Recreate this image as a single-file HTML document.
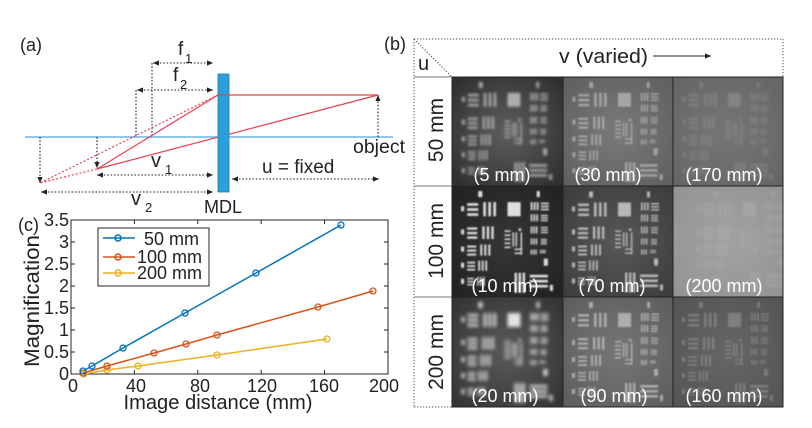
<!DOCTYPE html>
<html><head><meta charset="utf-8"><style>
html,body{margin:0;padding:0;background:#fff;}
svg{display:block;}
text{font-family:"Liberation Sans",sans-serif;}
</style></head><body>
<svg width="812" height="428" viewBox="0 0 812 428" xmlns="http://www.w3.org/2000/svg">
<defs>
<marker id="ah" viewBox="0 0 6 6" refX="6" refY="3" markerWidth="6" markerHeight="6" markerUnits="userSpaceOnUse" orient="auto-start-reverse"><path d="M0,0.4 L6,3 L0,5.6 z" fill="#222"/></marker>
<filter id="b1" x="-10%" y="-10%" width="120%" height="120%"><feGaussianBlur stdDeviation="0.9"/></filter>
<filter id="b2" x="-10%" y="-10%" width="120%" height="120%"><feGaussianBlur stdDeviation="1.2"/></filter>
<filter id="b3" x="-10%" y="-10%" width="120%" height="120%"><feGaussianBlur stdDeviation="1.8"/></filter>
<radialGradient id="g11" cx="50%" cy="50%" r="65%"><stop offset="0" stop-color="#5e5e5e"/><stop offset="1" stop-color="#303030"/></radialGradient>
<radialGradient id="g12" cx="50%" cy="50%" r="65%"><stop offset="0" stop-color="#7a7a7a"/><stop offset="1" stop-color="#606060"/></radialGradient>
<radialGradient id="g13" cx="50%" cy="50%" r="65%"><stop offset="0" stop-color="#767676"/><stop offset="1" stop-color="#666"/></radialGradient>
<radialGradient id="g21" cx="50%" cy="50%" r="65%"><stop offset="0" stop-color="#363636"/><stop offset="1" stop-color="#232323"/></radialGradient>
<radialGradient id="g22" cx="50%" cy="50%" r="65%"><stop offset="0" stop-color="#575757"/><stop offset="1" stop-color="#3e3e3e"/></radialGradient>
<radialGradient id="g23" cx="50%" cy="50%" r="65%"><stop offset="0" stop-color="#a2a2a2"/><stop offset="1" stop-color="#949494"/></radialGradient>
<radialGradient id="g31" cx="50%" cy="50%" r="65%"><stop offset="0" stop-color="#5a5a5a"/><stop offset="1" stop-color="#353535"/></radialGradient>
<radialGradient id="g32" cx="50%" cy="50%" r="65%"><stop offset="0" stop-color="#767676"/><stop offset="1" stop-color="#5e5e5e"/></radialGradient>
<radialGradient id="g33" cx="50%" cy="50%" r="65%"><stop offset="0" stop-color="#666"/><stop offset="1" stop-color="#555"/></radialGradient>
<symbol id="tg" viewBox="0 0 110 110">
<g fill="#fff">
<rect x="26" y="5" width="4" height="6"/><rect x="84" y="5" width="3" height="6"/>
<rect x="9" y="20" width="3" height="5"/><rect x="9" y="43" width="3" height="5"/><rect x="9" y="60" width="3" height="5"/><rect x="9" y="76" width="3" height="5"/><rect x="9" y="92" width="3" height="5"/>
<rect x="15" y="17" width="11" height="2.6"/><rect x="15" y="22" width="11" height="2.6"/><rect x="15" y="27" width="11" height="2.6"/>
<rect x="31" y="16" width="2.6" height="14"/><rect x="36" y="16" width="2.6" height="14"/><rect x="41" y="16" width="2.6" height="14"/>
<rect x="55" y="16" width="13" height="14"/>
<rect x="15" y="41" width="10" height="2.3"/><rect x="15" y="45.5" width="10" height="2.3"/><rect x="15" y="50" width="10" height="2.3"/>
<rect x="30" y="40" width="2.3" height="12.5"/><rect x="34.5" y="40" width="2.3" height="12.5"/><rect x="39" y="40" width="2.3" height="12.5"/>
<rect x="15" y="59" width="9" height="2"/><rect x="15" y="63" width="9" height="2"/><rect x="15" y="67" width="9" height="2"/>
<rect x="28" y="58" width="2" height="11"/><rect x="32" y="58" width="2" height="11"/><rect x="36" y="58" width="2" height="11"/>
<rect x="15" y="75" width="8" height="1.8"/><rect x="15" y="78.5" width="8" height="1.8"/><rect x="15" y="82" width="8" height="1.8"/>
<rect x="26" y="74" width="1.8" height="10"/><rect x="29.5" y="74" width="1.8" height="10"/><rect x="33" y="74" width="1.8" height="10"/>
<rect x="15" y="91" width="7" height="1.5"/><rect x="15" y="94" width="7" height="1.5"/><rect x="15" y="97" width="7" height="1.5"/>
<rect x="25" y="90" width="1.5" height="9"/><rect x="28" y="90" width="1.5" height="9"/><rect x="31" y="90" width="1.5" height="9"/>
<rect x="78" y="16" width="1.8" height="8"/><rect x="81" y="16" width="1.8" height="8"/><rect x="84" y="16" width="1.8" height="8"/>
<rect x="88" y="16.5" width="8" height="1.6"/><rect x="88" y="19.5" width="8" height="1.6"/><rect x="88" y="22.5" width="8" height="1.6"/>
<rect x="78" y="28" width="1.6" height="7"/><rect x="80.8" y="28" width="1.6" height="7"/><rect x="83.6" y="28" width="1.6" height="7"/>
<rect x="88" y="28.5" width="7" height="1.4"/><rect x="88" y="31" width="7" height="1.4"/><rect x="88" y="33.5" width="7" height="1.4"/>
<rect x="78" y="40" width="1.5" height="7"/><rect x="80.6" y="40" width="1.5" height="7"/><rect x="83.2" y="40" width="1.5" height="7"/>
<rect x="88" y="40.5" width="7" height="1.3"/><rect x="88" y="43" width="7" height="1.3"/><rect x="88" y="45.5" width="7" height="1.3"/>
<rect x="78" y="52" width="1.4" height="6"/><rect x="80.5" y="52" width="1.4" height="6"/><rect x="83" y="52" width="1.4" height="6"/>
<rect x="88" y="52.5" width="6" height="1.2"/><rect x="88" y="54.6" width="6" height="1.2"/><rect x="88" y="56.7" width="6" height="1.2"/>
<rect x="78" y="63" width="1.3" height="5"/><rect x="80.3" y="63" width="1.3" height="5"/><rect x="82.6" y="63" width="1.3" height="5"/>
<rect x="87" y="63.5" width="6" height="1.1"/><rect x="87" y="65.4" width="6" height="1.1"/>
<rect x="52" y="44" width="6" height="1.5"/><rect x="52" y="48" width="6" height="1.5"/><rect x="52" y="52" width="6" height="1.5"/><rect x="52" y="56" width="6" height="1.5"/><rect x="52" y="60" width="6" height="1.5"/>
<rect x="60" y="46" width="1.4" height="14"/><rect x="63" y="46" width="1.4" height="14"/><rect x="66" y="42" width="2.5" height="2.5"/>
<rect x="68" y="46" width="1.4" height="22"/><rect x="62" y="62" width="7" height="1.4"/><rect x="62" y="66" width="7" height="1.4"/>
<rect x="62" y="86" width="2.4" height="20"/><rect x="66" y="86" width="2.4" height="20"/><rect x="70" y="86" width="2.4" height="20"/>
<rect x="77" y="88" width="18" height="2.6"/><rect x="77" y="93" width="18" height="2.6"/><rect x="77" y="98" width="18" height="2.6"/>
<rect x="91" y="72" width="4" height="7"/><rect x="97" y="98" width="3" height="6"/>
</g>
</symbol>
</defs>

<!-- ============ Panel (a) ============ -->
<text x="20" y="51" font-size="18" fill="#222">(a)</text>
<line x1="25" y1="137" x2="393" y2="137" stroke="#4ca3dd" stroke-width="1.3"/>
<g stroke="#222" stroke-width="1.1" stroke-dasharray="1.6 1.8" fill="none">
<line x1="152" y1="63" x2="152" y2="137"/>
<line x1="136" y1="90" x2="136" y2="137"/>
<line x1="153" y1="63" x2="213" y2="63" marker-start="url(#ah)" marker-end="url(#ah)"/>
<line x1="137" y1="90" x2="213" y2="90" marker-start="url(#ah)" marker-end="url(#ah)"/>
<line x1="378" y1="137" x2="378" y2="95" marker-end="url(#ah)"/>
<line x1="97" y1="137" x2="97" y2="168" marker-end="url(#ah)"/>
<line x1="40" y1="137" x2="40" y2="183" marker-end="url(#ah)"/>
<line x1="97" y1="175" x2="213" y2="175" marker-start="url(#ah)" marker-end="url(#ah)"/>
<line x1="41" y1="192" x2="213" y2="192" marker-start="url(#ah)" marker-end="url(#ah)"/>
<line x1="232" y1="179" x2="379" y2="179" marker-start="url(#ah)" marker-end="url(#ah)"/>
</g>
<g stroke="#e8414f" stroke-width="1.2" fill="none">
<line x1="218" y1="95" x2="378" y2="95"/>
<line x1="378" y1="95" x2="97" y2="169"/>
<line x1="218" y1="95" x2="97" y2="169"/>
<line x1="218" y1="95" x2="40" y2="183" stroke-dasharray="2 2"/>
<line x1="97" y1="169" x2="40" y2="183" stroke-dasharray="2 2"/>
</g>
<rect x="218" y="74" width="11" height="118" fill="#2b9fd8" stroke="#1a7cb4" stroke-width="0.8"/>
<line x1="218" y1="95" x2="229" y2="95" stroke="#e8414f" stroke-width="1"/>
<g fill="#222">
<text x="178" y="55" font-size="19">f</text><text x="185" y="63" font-size="13">1</text>
<text x="173" y="81" font-size="19">f</text><text x="180" y="89" font-size="13">2</text>
<text x="151" y="167" font-size="20">v</text><text x="165" y="174" font-size="13">1</text>
<text x="131" y="205" font-size="20">v</text><text x="145" y="212" font-size="13">2</text>
<text x="204" y="213" font-size="18">MDL</text>
<text x="262" y="173" font-size="19">u = fixed</text>
<text x="353" y="153" font-size="19" textLength="52" lengthAdjust="spacingAndGlyphs">object</text>
</g>

<!-- ============ Panel (b) ============ -->
<text x="384" y="50" font-size="18" fill="#222">(b)</text>
<g stroke="#555" stroke-width="1" stroke-dasharray="1.3 1.7" fill="none">
<line x1="414" y1="39" x2="783" y2="39"/>
<line x1="783" y1="39" x2="783" y2="77"/>
<line x1="414" y1="39" x2="414" y2="407"/>
<line x1="414" y1="407" x2="452" y2="407"/>
<line x1="414" y1="39" x2="452" y2="77"/>
</g>
<g stroke="#777" stroke-width="1">
<line x1="414" y1="77" x2="783" y2="77"/>
<line x1="414" y1="186" x2="452" y2="186"/>
<line x1="414" y1="297" x2="452" y2="297"/>
</g>
<text x="559" y="63" font-size="20" fill="#222" textLength="89" lengthAdjust="spacingAndGlyphs">v (varied)</text>
<line x1="653" y1="56" x2="711" y2="56" stroke="#222" stroke-width="1" marker-end="url(#ah)"/>
<text x="418" y="70" font-size="20" fill="#222">u</text>
<g font-size="21" fill="#222" text-anchor="middle">
<text transform="translate(443,130) rotate(-90)">50 mm</text>
<text transform="translate(443,241) rotate(-90)">100 mm</text>
<text transform="translate(443,352) rotate(-90)">200 mm</text>
</g>

<rect x="452" y="77" width="111" height="109" fill="url(#g11)"/>
<use href="#tg" x="452" y="77" width="111" height="109" opacity="0.55" filter="url(#b2)"/>
<rect x="563" y="77" width="110" height="109" fill="url(#g12)"/>
<use href="#tg" x="563" y="77" width="110" height="109" opacity="0.38" filter="url(#b1)"/>
<rect x="673" y="77" width="110" height="109" fill="url(#g13)"/>
<use href="#tg" x="673" y="77" width="110" height="109" opacity="0.14" filter="url(#b2)"/>

<rect x="452" y="186" width="111" height="111" fill="url(#g21)"/>
<use href="#tg" x="452" y="186" width="111" height="111" opacity="0.85" filter="url(#b1)"/>
<rect x="563" y="186" width="110" height="111" fill="url(#g22)"/>
<use href="#tg" x="563" y="186" width="110" height="111" opacity="0.6" filter="url(#b1)"/>
<rect x="673" y="186" width="110" height="111" fill="url(#g23)"/>
<use href="#tg" x="688" y="186" width="110" height="111" opacity="0.1" filter="url(#b2)"/>

<rect x="452" y="297" width="111" height="110" fill="url(#g31)"/>
<use href="#tg" x="452" y="297" width="111" height="110" opacity="0.85" filter="url(#b3)"/>
<rect x="563" y="297" width="110" height="110" fill="url(#g32)"/>
<use href="#tg" x="563" y="297" width="110" height="110" opacity="0.45" filter="url(#b1)"/>
<rect x="673" y="297" width="110" height="110" fill="url(#g33)"/>
<use href="#tg" x="673" y="297" width="110" height="110" opacity="0.2" filter="url(#b1)"/>

<g stroke="#222" stroke-width="1" fill="none">
<rect x="452" y="77" width="331" height="330"/>
<line x1="563" y1="77" x2="563" y2="407"/>
<line x1="673" y1="77" x2="673" y2="407"/>
<line x1="452" y1="186" x2="783" y2="186"/>
<line x1="452" y1="297" x2="783" y2="297"/>
</g>
<g font-size="18" fill="#fff" text-anchor="middle">
<text x="502" y="181">(5 mm)</text>
<text x="608" y="181">(30 mm)</text>
<text x="724" y="181">(170 mm)</text>
<text x="505" y="292">(10 mm)</text>
<text x="612" y="292">(70 mm)</text>
<text x="724" y="292">(200 mm)</text>
<text x="505" y="402">(20 mm)</text>
<text x="614" y="402">(90 mm)</text>
<text x="724" y="402">(160 mm)</text>
</g>

<!-- ============ Panel (c) ============ -->
<text x="18" y="231" font-size="18" fill="#222">(c)</text>
<rect x="71" y="220" width="317" height="154" fill="#fff" stroke="#262626" stroke-width="1"/>
<g stroke="#262626" stroke-width="1">
<line x1="71" y1="352" x2="75" y2="352"/><line x1="71" y1="330" x2="75" y2="330"/><line x1="71" y1="308" x2="75" y2="308"/><line x1="71" y1="286" x2="75" y2="286"/><line x1="71" y1="264" x2="75" y2="264"/><line x1="71" y1="242" x2="75" y2="242"/>
<line x1="388" y1="352" x2="384" y2="352"/><line x1="388" y1="330" x2="384" y2="330"/><line x1="388" y1="308" x2="384" y2="308"/><line x1="388" y1="286" x2="384" y2="286"/><line x1="388" y1="264" x2="384" y2="264"/><line x1="388" y1="242" x2="384" y2="242"/>
<line x1="134.4" y1="374" x2="134.4" y2="370"/><line x1="197.8" y1="374" x2="197.8" y2="370"/><line x1="261.2" y1="374" x2="261.2" y2="370"/><line x1="324.6" y1="374" x2="324.6" y2="370"/>
<line x1="134.4" y1="220" x2="134.4" y2="224"/><line x1="197.8" y1="220" x2="197.8" y2="224"/><line x1="261.2" y1="220" x2="261.2" y2="224"/><line x1="324.6" y1="220" x2="324.6" y2="224"/>
</g>
<g font-size="18" fill="#222" text-anchor="end">
<text x="69" y="380">0</text><text x="69" y="358">0.5</text><text x="69" y="336">1</text><text x="69" y="314">1.5</text><text x="69" y="292">2</text><text x="69" y="270">2.5</text><text x="69" y="248">3</text><text x="69" y="226">3.5</text>
</g>
<g font-size="18" fill="#222" text-anchor="middle">
<text x="73" y="392">0</text><text x="136" y="392">40</text><text x="200" y="392">80</text><text x="262" y="392">120</text><text x="324" y="392">160</text><text x="384" y="392">200</text>
</g>
<text x="218" y="409" font-size="20" fill="#222" text-anchor="middle" textLength="189" lengthAdjust="spacingAndGlyphs">Image distance (mm)</text>
<text transform="translate(39,301) rotate(-90)" font-size="21" fill="#222" text-anchor="middle" textLength="132" lengthAdjust="spacingAndGlyphs">Magnification</text>

<g fill="none" stroke-width="1.5">
<polyline stroke="#EDB120" points="84,374 107,370 138,366 217,355 327,339"/>
<polyline stroke="#D95319" points="83,373 107,366 154,353 186,344 217,335 318,307 373,291"/>
<polyline stroke="#0072BD" points="83,371 92,366 123,348 185,313 256,273 341,225"/>
</g>
<g fill="none" stroke-width="1.3">
<g stroke="#EDB120"><circle cx="84" cy="374" r="3"/><circle cx="107" cy="370" r="3"/><circle cx="138" cy="366" r="3"/><circle cx="217" cy="355" r="3"/><circle cx="327" cy="339" r="3"/></g>
<g stroke="#D95319"><circle cx="83" cy="373" r="3"/><circle cx="107" cy="366" r="3"/><circle cx="154" cy="353" r="3"/><circle cx="186" cy="344" r="3"/><circle cx="217" cy="335" r="3"/><circle cx="318" cy="307" r="3"/><circle cx="373" cy="291" r="3"/></g>
<g stroke="#0072BD"><circle cx="83" cy="371" r="3"/><circle cx="92" cy="366" r="3"/><circle cx="123" cy="348" r="3"/><circle cx="185" cy="313" r="3"/><circle cx="256" cy="273" r="3"/><circle cx="341" cy="225" r="3"/></g>
</g>

<rect x="98" y="228" width="111" height="58" fill="#fff" stroke="#262626" stroke-width="1"/>
<g stroke-width="1.5" fill="none">
<line x1="103" y1="238" x2="135" y2="238" stroke="#0072BD"/><circle cx="118" cy="238" r="3" stroke="#0072BD"/>
<line x1="103" y1="257" x2="135" y2="257" stroke="#D95319"/><circle cx="118" cy="257" r="3" stroke="#D95319"/>
<line x1="103" y1="273" x2="135" y2="273" stroke="#EDB120"/><circle cx="118" cy="273" r="3" stroke="#EDB120"/>
</g>
<g font-size="18" fill="#222">
<text x="144" y="245">50 mm</text>
<text x="137" y="263">100 mm</text>
<text x="137" y="279">200 mm</text>
</g>
</svg>
</body></html>
